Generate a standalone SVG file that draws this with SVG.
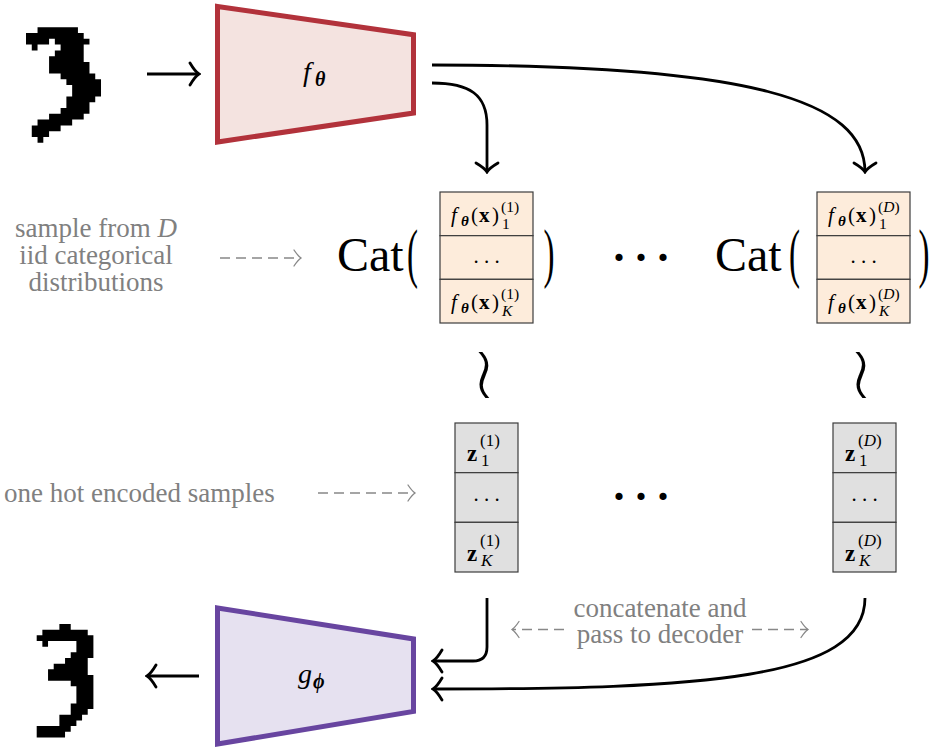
<svg xmlns="http://www.w3.org/2000/svg" width="933" height="749" viewBox="0 0 933 749">
<style>
.lbl{font-family:"Liberation Serif","Times New Roman",serif;font-size:27px;fill:#808080}
.cat{font-family:"Liberation Serif","Times New Roman",serif;font-size:48px;fill:#000}
.m{font-family:"Liberation Serif","Times New Roman",serif;fill:#000}
.par{font-family:"Liberation Serif","Times New Roman",serif;font-size:60px;fill:#000}
.conn{fill:none;stroke:#000;stroke-width:2.8;marker-end:url(#ah)}
.dash{fill:none;stroke:#888;stroke-width:1.3;stroke-dasharray:10 6;marker-end:url(#gh)}
.catbox rect{fill:#fdecdb;stroke:#3c3c3c;stroke-width:1.2}
.zbox rect{fill:#e0e0e0;stroke:#3c3c3c;stroke-width:1.2}
.px{fill:#000}
.wr{font-family:"DejaVu Sans",sans-serif;font-size:46px;font-weight:200;fill:#000}
</style>
<defs>
<marker id="ah" viewBox="-12 -13 14 26" refX="0" refY="0" markerWidth="14" markerHeight="26" markerUnits="userSpaceOnUse" orient="auto">
<path d="M-9,-11 Q-4,-2.5 0,0 Q-4,2.5 -9,11" fill="none" stroke="#000" stroke-width="2.8" stroke-linecap="round"/>
</marker>
<marker id="gh" viewBox="-10 -10 12 20" refX="0" refY="0" markerWidth="12" markerHeight="20" markerUnits="userSpaceOnUse" orient="auto">
<path d="M-7,-8 Q-3,-2 0,0 Q-3,2 -7,8" fill="none" stroke="#888" stroke-width="1.3" stroke-linecap="round"/>
</marker>
</defs>
<rect width="933" height="749" fill="#fff"/>

<g id="input-digit" transform="translate(26,27.3) scale(5.77)">
<path class="px" d="M2,0h7v1h-7z M0,1h10v1h-10z M0,2h4v1h-4z M5,2h6v1h-6z M1,3h1v1h-1z M6,3h4v1h-4z M5,4h5v1h-5z M4,5h6v1h-6z M4,6h7v1h-7z M4,7h7v1h-7z M6,8h6v1h-6z M7,9h6v1h-6z M8,10h5v1h-5z M8,11h5v1h-5z M7,12h5v1h-5z M7,13h4v1h-4z M6,14h5v1h-5z M4,15h6v1h-6z M2,16h6v1h-6z M1,17h5v1h-5z M1,18h3v1h-3z M2,19h1v1h-1z"/>
</g>

<g id="output-digit" transform="translate(36.7,624) scale(5.67)">
<path class="px" d="M4,0h2v1h-2z M1,1h8v1h-8z M0,2h10v1h-10z M1,3h1v1h-1z M7,3h3v1h-3z M7,4h3v1h-3z M6,5h4v1h-4z M5,6h4v1h-4z M3,7h6v1h-6z M2,8h7v1h-7z M2,9h8v1h-8z M6,10h4v1h-4z M7,11h3v1h-3z M7,12h3v1h-3z M7,13h3v1h-3z M6,14h4v1h-4z M6,15h3v1h-3z M4,16h4v1h-4z M4,17h3v1h-3z M0,18h6v1h-6z M0,19h5v1h-5z"/>
</g>

<g id="encoder">
<polygon points="217.5,6.5 413.5,34.7 413.5,113 217.5,142" fill="#f4e3e0" stroke="#b2323b" stroke-width="5"/>
<text class="m"><tspan x="303" y="81" font-size="28" font-style="italic">f</tspan><tspan x="315" y="86" font-size="20" font-weight="bold" font-style="italic">θ</tspan></text>
</g>

<g id="decoder">
<polygon points="217.5,608 413.5,639 413.5,711.5 217.5,744" fill="#e6e1f0" stroke="#6845a0" stroke-width="5"/>
<text class="m"><tspan x="298" y="683" font-size="28" font-style="italic">g</tspan><tspan x="313" y="688" font-size="20" font-weight="bold" font-style="italic">ϕ</tspan></text>
</g>

<g id="cat-1">
<text class="cat" x="337" y="271">Cat</text>
<text class="par" text-anchor="middle" transform="translate(412.5,275) scale(0.55,1.1)">(</text>
<text class="par" text-anchor="middle" transform="translate(549,275) scale(0.55,1.1)">)</text>
<g class="catbox">
<rect x="440" y="192" width="93" height="43.67"/>
<rect x="440" y="235.67" width="93" height="43.67"/>
<rect x="440" y="279.33" width="93" height="43.67"/>
</g>
<text class="m"><tspan x="451" y="222" font-size="21" font-style="italic">f</tspan><tspan x="461" y="226" font-size="15" font-weight="bold" font-style="italic">θ</tspan><tspan x="471" y="222" font-size="21">(</tspan><tspan x="479" y="222" font-size="21" font-weight="bold">x</tspan><tspan x="492" y="222" font-size="21">)</tspan><tspan x="501" y="212" font-size="15.5">(1)</tspan><tspan x="502" y="229" font-size="15.5">1</tspan></text>
<text class="m" x="486.5" y="263" font-size="21" text-anchor="middle">. . .</text>
<text class="m"><tspan x="451" y="309" font-size="21" font-style="italic">f</tspan><tspan x="461" y="313" font-size="15" font-weight="bold" font-style="italic">θ</tspan><tspan x="471" y="309" font-size="21">(</tspan><tspan x="479" y="309" font-size="21" font-weight="bold">x</tspan><tspan x="492" y="309" font-size="21">)</tspan><tspan x="501" y="299" font-size="15.5">(1)</tspan><tspan x="502" y="316" font-size="15.5" font-style="italic">K</tspan></text>
</g>

<g id="cat-D">
<text class="cat" x="715" y="271">Cat</text>
<text class="par" text-anchor="middle" transform="translate(794.5,275) scale(0.55,1.1)">(</text>
<text class="par" text-anchor="middle" transform="translate(924,275) scale(0.55,1.1)">)</text>
<g class="catbox">
<rect x="817" y="192" width="93" height="43.67"/>
<rect x="817" y="235.67" width="93" height="43.67"/>
<rect x="817" y="279.33" width="93" height="43.67"/>
</g>
<text class="m"><tspan x="828" y="222" font-size="21" font-style="italic">f</tspan><tspan x="838" y="226" font-size="15" font-weight="bold" font-style="italic">θ</tspan><tspan x="848" y="222" font-size="21">(</tspan><tspan x="856" y="222" font-size="21" font-weight="bold">x</tspan><tspan x="869" y="222" font-size="21">)</tspan><tspan x="878" y="212" font-size="15.5">(<tspan font-style="italic">D</tspan>)</tspan><tspan x="879" y="229" font-size="15.5">1</tspan></text>
<text class="m" x="863.5" y="263" font-size="21" text-anchor="middle">. . .</text>
<text class="m"><tspan x="828" y="309" font-size="21" font-style="italic">f</tspan><tspan x="838" y="313" font-size="15" font-weight="bold" font-style="italic">θ</tspan><tspan x="848" y="309" font-size="21">(</tspan><tspan x="856" y="309" font-size="21" font-weight="bold">x</tspan><tspan x="869" y="309" font-size="21">)</tspan><tspan x="878" y="299" font-size="15.5">(<tspan font-style="italic">D</tspan>)</tspan><tspan x="879" y="316" font-size="15.5" font-style="italic">K</tspan></text>
</g>

<g id="cat-dots">
<text class="m" x="641" y="261" font-size="44" font-weight="bold" text-anchor="middle">. . .</text>
</g>

<g id="sim-1">
<text class="wr" text-anchor="middle" transform="translate(486.5,375) rotate(90) scale(2.1,1.8)" x="0" y="17.5">∼</text>
</g>
<g id="sim-D">
<text class="wr" text-anchor="middle" transform="translate(864,375) rotate(90) scale(2.1,1.8)" x="0" y="17.5">∼</text>
</g>

<g id="z-1">
<g class="zbox">
<rect x="455" y="423" width="63" height="49.67"/>
<rect x="455" y="472.67" width="63" height="49.67"/>
<rect x="455" y="522.33" width="63" height="49.67"/>
</g>
<text class="m"><tspan x="467" y="461" font-size="23" font-weight="bold">z</tspan><tspan x="480" y="446" font-size="17">(1)</tspan><tspan x="481" y="465.5" font-size="17">1</tspan></text>
<text class="m" x="486.5" y="500.5" font-size="21" text-anchor="middle">. . .</text>
<text class="m"><tspan x="467" y="561" font-size="23" font-weight="bold">z</tspan><tspan x="480" y="546" font-size="17">(1)</tspan><tspan x="481" y="565.5" font-size="17" font-style="italic">K</tspan></text>
</g>

<g id="z-D">
<g class="zbox">
<rect x="833" y="423" width="63" height="49.67"/>
<rect x="833" y="472.67" width="63" height="49.67"/>
<rect x="833" y="522.33" width="63" height="49.67"/>
</g>
<text class="m"><tspan x="845" y="461" font-size="23" font-weight="bold">z</tspan><tspan x="858" y="446" font-size="17">(<tspan font-style="italic">D</tspan>)</tspan><tspan x="859" y="465.5" font-size="17">1</tspan></text>
<text class="m" x="864.5" y="500.5" font-size="21" text-anchor="middle">. . .</text>
<text class="m"><tspan x="845" y="561" font-size="23" font-weight="bold">z</tspan><tspan x="858" y="546" font-size="17">(<tspan font-style="italic">D</tspan>)</tspan><tspan x="859" y="565.5" font-size="17" font-style="italic">K</tspan></text>
</g>

<g id="z-dots">
<text class="m" x="641" y="500" font-size="44" font-weight="bold" text-anchor="middle">. . .</text>
</g>

<g id="label-sample">
<text class="lbl" text-anchor="middle"><tspan x="96" y="237">sample from <tspan font-style="italic">D</tspan></tspan><tspan x="96" y="264">iid categorical</tspan><tspan x="96" y="291">distributions</tspan></text>
</g>
<g id="label-onehot">
<text class="lbl" x="4" y="502">one hot encoded samples</text>
</g>
<g id="label-concat">
<text class="lbl" text-anchor="middle"><tspan x="660" y="617">concatenate and</tspan><tspan x="660" y="643">pass to decoder</tspan></text>
</g>

<g id="connectors">
<path class="conn" d="M147,74 L199,74"/>
<path class="conn" d="M432,83 C470,83 487,95 487,125 L487,172"/>
<path class="conn" d="M432,65 C750,65 865,100 865,172"/>
<path class="conn" d="M487,598 L487,647 Q487,661 473,661 L433,661"/>
<path class="conn" d="M865,598 C865,680 700,689 433,689"/>
<path class="conn" d="M199,676 L147,676"/>
<path class="dash" d="M220,258 L301,258"/>
<path class="dash" d="M318,493 L415,493"/>
<path class="dash" d="M564,629.5 L512,629.5"/>
<path class="dash" d="M752,629.5 L808,629.5"/>
</g>
</svg>
